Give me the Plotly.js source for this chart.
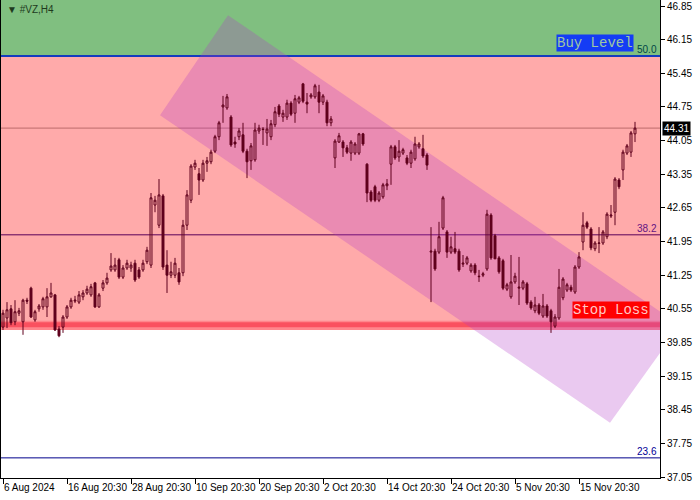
<!DOCTYPE html>
<html><head><meta charset="utf-8">
<script src="https://cdn.plot.ly/plotly-3.0.1.min.js"></script>
<style>html,body{margin:0;padding:0;background:#fff}#chart{width:700px;height:500px}</style>
</head><body><div id="chart"></div>
<script>
const open = [
40.17,40.36,40.55,40.28,40.46,40.28,40.73,40.98,40.32,40.55,
40.59,40.59,40.80,40.84,40.13,40.17,40.38,40.59,40.71,40.69,
40.80,40.88,40.84,41.09,40.59,40.98,41.09,41.36,41.36,41.57,
41.21,41.40,41.40,41.50,41.36,41.36,41.53,41.46,42.71,42.29,
42.90,41.46,41.25,41.25,41.30,41.30,42.29,42.81,43.50,43.36,
43.23,43.58,43.61,43.83,44.13,44.75,44.73,44.54,44.02,44.13,
44.17,43.83,43.63,43.65,44.25,44.29,44.21,44.13,44.38,44.77,
44.54,44.54,44.83,44.62,44.85,45.23,44.85,44.96,44.96,45.06,
44.85,44.85,44.42,43.69,44.02,44.02,43.90,43.79,43.79,43.79,
44.19,43.56,42.98,43.09,42.81,42.88,43.11,43.56,43.92,43.71,
43.79,43.69,43.58,43.67,43.92,43.88,43.75,41.73,41.75,41.73,
42.23,42.15,41.73,41.80,41.75,41.48,41.50,41.34,41.46,41.23,
41.25,41.38,42.50,42.07,41.61,41.55,40.96,40.80,41.11,40.98,
40.98,41.07,40.69,40.51,40.63,40.40,40.61,40.51,40.19,40.36,
40.78,40.94,41.00,40.90,41.42,41.94,42.34,42.21,41.80,41.91,
41.92,42.05,42.48,42.56,43.23,43.44,43.79,43.81,44.19];
const high = [
40.53,40.69,40.63,40.73,40.57,40.76,40.78,41.01,40.53,40.65,
40.80,40.98,41.09,40.86,40.19,40.42,40.63,40.78,40.82,40.92,
40.94,41.03,41.07,41.11,40.88,41.15,41.30,41.71,41.61,41.61,
41.46,41.57,41.53,41.57,41.42,41.57,41.84,42.96,42.90,43.25,
42.94,41.77,41.53,41.61,41.40,42.40,43.02,43.56,43.65,43.48,
43.65,43.71,43.86,44.17,44.46,44.98,45.02,44.58,44.13,44.31,
44.42,43.88,44.00,44.42,44.38,44.33,44.50,44.48,44.75,44.81,
44.69,44.90,44.87,45.00,44.98,45.25,45.04,45.04,45.23,45.21,
45.02,44.90,44.56,44.08,44.21,44.06,43.96,44.06,44.02,44.21,
44.21,43.58,43.02,43.13,43.00,43.17,43.25,43.96,43.96,44.06,
43.90,43.75,43.86,44.13,44.02,44.17,43.79,42.25,41.80,42.36,
42.90,42.19,42.05,42.15,41.80,41.67,41.65,41.50,41.50,41.36,
41.32,42.61,42.54,42.11,41.65,41.59,41.09,41.67,41.30,41.63,
41.15,41.11,40.73,40.80,40.67,40.86,40.65,40.55,40.44,41.38,
41.21,41.09,41.05,41.46,41.73,42.56,42.38,42.25,41.96,42.25,
42.19,42.56,42.71,43.29,43.27,43.86,43.98,44.25,44.44];
const low = [
40.11,40.15,40.21,40.21,40.40,40.01,40.65,40.36,40.28,40.49,
40.53,40.38,40.78,40.09,39.96,40.05,40.34,40.55,40.67,40.65,
40.73,40.84,40.80,40.57,40.57,40.92,41.05,41.32,41.32,41.17,
41.17,41.36,41.32,41.11,41.17,41.32,41.48,41.40,42.56,42.23,
41.36,40.88,41.19,41.19,41.05,41.23,42.19,42.75,43.44,42.92,
43.19,43.40,43.56,43.79,44.06,44.42,44.69,43.92,43.90,44.06,
43.79,43.27,43.44,43.61,44.19,43.96,43.94,44.06,44.33,44.54,
44.44,44.48,44.56,44.42,44.81,44.83,44.62,44.92,44.92,44.62,
44.79,44.35,44.35,43.48,44.00,43.71,43.77,43.63,43.75,43.75,
43.94,42.77,42.77,42.77,42.77,42.84,43.02,43.13,43.65,43.61,
43.75,43.54,43.48,43.63,43.88,43.69,43.44,40.69,41.34,41.69,
42.19,41.61,41.69,41.69,41.32,41.42,41.46,41.30,41.25,41.11,
41.21,41.34,41.57,41.59,41.28,40.94,40.92,40.76,41.07,40.63,
40.94,40.63,40.53,40.46,40.42,40.36,40.36,40.05,40.15,40.32,
40.73,40.90,40.90,40.86,41.38,41.77,42.21,41.77,41.75,41.71,
41.88,42.00,42.44,42.29,43.04,43.23,43.75,43.71,44.02];
const close = [
40.46,40.53,40.26,40.49,40.51,40.73,40.71,40.38,40.49,40.61,
40.76,40.80,40.88,40.11,39.99,40.38,40.59,40.73,40.73,40.84,
40.88,40.96,41.01,40.59,40.84,41.09,41.19,41.44,41.46,41.21,
41.40,41.50,41.46,41.15,41.21,41.50,41.77,42.86,42.81,42.92,
41.42,41.25,41.32,41.50,41.11,42.29,42.92,43.52,43.58,43.23,
43.58,43.63,43.81,44.13,44.42,44.79,44.96,43.96,43.98,44.25,
43.83,43.61,43.94,44.27,44.31,44.28,44.29,44.40,44.65,44.60,
44.62,44.83,44.60,44.92,44.94,44.87,44.81,45.00,45.19,44.85,
44.98,44.42,44.50,44.04,44.15,43.90,43.81,44.02,43.98,44.19,
43.98,42.96,42.81,42.81,42.96,43.13,43.15,43.92,43.69,43.83,
43.86,43.58,43.81,43.98,43.98,43.73,43.54,41.75,41.38,42.05,
42.86,41.73,41.84,41.73,41.36,41.50,41.61,41.46,41.30,41.22,
41.28,42.52,41.61,41.59,41.32,40.98,41.05,41.11,41.23,41.00,
41.11,40.67,40.57,40.63,40.46,40.61,40.40,40.28,40.38,41.00,
41.17,41.05,40.94,41.42,41.63,42.29,42.25,41.82,41.92,41.92,
42.15,42.52,42.50,43.25,43.09,43.81,43.94,44.21,44.31];

const xTickIdx  = [0,16,32,48,64,80,96,112,128,144];
const xTickText = ['6 Aug 2024','16 Aug 20:30','28 Aug 20:30','10 Sep 20:30','20 Sep 20:30',
                   '2 Oct 20:30','14 Oct 20:30','24 Oct 20:30','5 Nov 20:30','15 Nov 20:30'];

const buyLevel  = 45.81;
const stopLoss  = 40.22;
const lastPrice = 44.31;
const fibLabels = ['50.0','38.2','23.6'];
const fibPrices = [45.81, 42.09, 37.45];
const channelIdx   = [56.25, 169.25, 151.75, 39.25];
const channelPrice = [46.66, 40.21, 38.18, 44.58];

const yMin = 37.031, yMax = 46.975;
const xMin = -0.5, xMax = 164.25;

const barIndex = open.map((_, i) => i);
const candleColor = 'rgb(95,0,28)';

const trace = {
  type: 'candlestick',
  x: barIndex, open: open, high: high, low: low, close: close,
  increasing: {line: {color: candleColor, width: 1}, fillcolor: 'rgba(0,0,0,0)'},
  decreasing: {line: {color: candleColor, width: 1}, fillcolor: candleColor},
  whiskerwidth: 0,
  hoverinfo: 'skip',
  showlegend: false
};

const chanPath = 'M' + channelIdx.map((x, k) => x + ',' + channelPrice[k]).join(' L') + ' Z';

const shapes = [
  {type:'rect', xref:'paper', yref:'y', x0:0, x1:1, y0:buyLevel, y1:yMax,
   fillcolor:'rgb(128,191,128)', line:{width:0}, layer:'below'},
  {type:'rect', xref:'paper', yref:'y', x0:0, x1:1, y0:stopLoss-0.11, y1:buyLevel,
   fillcolor:'rgb(255,170,170)', line:{width:0}, layer:'below'},
  {type:'path', xref:'x', yref:'y', path: chanPath,
   fillcolor:'rgba(178,55,200,0.27)', line:{width:0}, layer:'below'},
  {type:'line', xref:'paper', yref:'y', x0:0, x1:1, y0:lastPrice, y1:lastPrice,
   line:{color:'rgba(170,90,90,0.8)', width:1}, layer:'below'},
  {type:'line', xref:'paper', yref:'y', x0:0, x1:1, y0:fibPrices[1], y1:fibPrices[1],
   line:{color:'rgb(90,0,90)', width:1}, layer:'below'},
  {type:'line', xref:'paper', yref:'y', x0:0, x1:1, y0:fibPrices[2], y1:fibPrices[2],
   line:{color:'rgb(0,0,140)', width:1}, layer:'below'},
  {type:'line', xref:'paper', yref:'y', x0:0, x1:1, y0:buyLevel, y1:buyLevel,
   line:{color:'rgb(20,60,190)', width:2}, layer:'below'},
  {type:'rect', xref:'paper', yref:'y', x0:0, x1:1, y0:stopLoss-0.11, y1:stopLoss+0.08,
   fillcolor:'rgba(255,110,120,0.6)', line:{width:0}, layer:'below'},
  {type:'line', xref:'paper', yref:'y', x0:0, x1:1, y0:stopLoss, y1:stopLoss,
   line:{color:'rgb(250,80,95)', width:5}, layer:'below'}
];

const fibColors = ['rgb(0,70,70)','rgb(100,20,130)','rgb(0,0,150)'];
const annotations = [
  {xref:'paper', yref:'paper', x:0, y:1, xanchor:'left', yanchor:'top', xshift:4, yshift:-2,
   text:'▼ #VZ,H4', showarrow:false, font:{family:'Liberation Sans, Arial, sans-serif', size:10, color:'#1e3a1e'}},
  {xref:'x', yref:'y', x:148, y:46.09, text:'Buy Level', showarrow:false,
   bgcolor:'rgb(20,60,245)', borderpad:0, font:{family:'Liberation Mono, Courier New, monospace', size:14, color:'rgb(160,200,160)'}},
  {xref:'x', yref:'y', x:152.1, y:40.536, text:'Stop Loss', showarrow:false,
   bgcolor:'rgb(255,0,0)', borderpad:0, font:{family:'Liberation Mono, Courier New, monospace', size:14, color:'rgb(255,200,200)'}},
  {xref:'paper', yref:'y', x:1, y:lastPrice, xanchor:'left', yanchor:'middle', xshift:2,
   text:lastPrice.toFixed(2), showarrow:false, bgcolor:'#000', borderpad:1,
   font:{family:'Liberation Sans, Arial, sans-serif', size:10, color:'#fff'}}
];
fibLabels.forEach((t, k) => annotations.push({
  xref:'paper', yref:'y', x:1, y:fibPrices[k], xanchor:'right', yanchor:'bottom', xshift:-1, yshift:-1,
  text:t, showarrow:false, font:{family:'Liberation Sans, Arial, sans-serif', size:10, color:fibColors[k]}
}));

const layout = {
  width:700, height:500,
  margin:{l:1, r:40, t:0, b:22, pad:0},
  paper_bgcolor:'#fff', plot_bgcolor:'#fff',
  showlegend:false,
  font:{family:'Liberation Sans, Arial, sans-serif', size:10, color:'#000'},
  xaxis:{
    range:[xMin, xMax], rangeslider:{visible:false}, showgrid:false, zeroline:false,
    tickmode:'array', tickvals:xTickIdx, ticktext:xTickText, tickangle:0,
    ticks:'outside', ticklen:5, tickcolor:'#000', ticklabelposition:'outside right',
    showline:true, linecolor:'#000', linewidth:1,
    tickfont:{size:10, color:'#000'}, fixedrange:true
  },
  yaxis:{
    range:[yMin, yMax], side:'right', showgrid:false, zeroline:false,
    tick0:37.05, dtick:0.7, tickformat:'.2f',
    ticks:'outside', ticklen:4, tickcolor:'#000',
    showline:true, mirror:true, linecolor:'#000', linewidth:1,
    tickfont:{size:10, color:'#000'}, fixedrange:true
  },
  shapes: shapes,
  annotations: annotations
};

Plotly.newPlot('chart', [trace], layout, {displayModeBar:false, staticPlot:true});
</script></body></html>
